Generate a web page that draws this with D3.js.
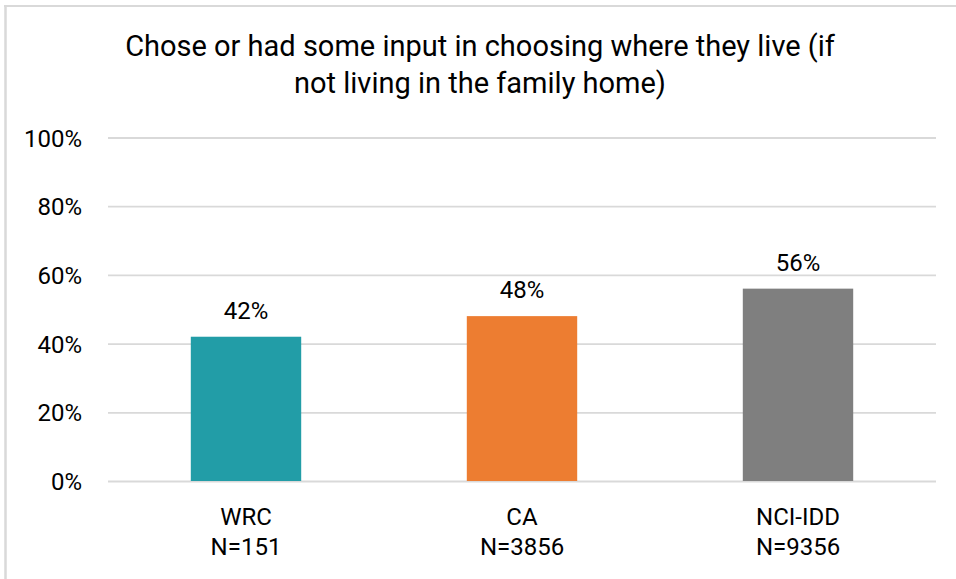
<!DOCTYPE html>
<html>
<head>
<meta charset="utf-8">
<script src="https://cdn.jsdelivr.net/npm/d3@7"></script>
<style>
  html, body { margin: 0; padding: 0; background: #fff; }
  svg { display: block; }
  text { font-family: Roboto, "Open Sans", sans-serif; fill: #000; }
</style>
</head>
<body>
<svg id="chart" width="956" height="579"></svg>
<script>
const titleLines = ["Chose or had some input in choosing where they live (if", "not living in the family home)"];
const categories = ["WRC", "CA", "NCI-IDD"];
const sampleSizes = ["N=151", "N=3856", "N=9356"];
const values = [0.42, 0.48, 0.56];
const colors = ["#229DA7", "#ED7D31", "#7F7F7F"];
const yTicks = [0, 0.2, 0.4, 0.6, 0.8, 1.0];

const svg = d3.select("#chart");
const W = 956, H = 579;
const margin = {left: 108, right: 20, top: 137.5, bottom: 98};

// chart border (top + left visible)
svg.append("line").attr("x1", 4).attr("x2", W).attr("y1", 6).attr("y2", 6)
  .attr("stroke", "#d9d9d9").attr("stroke-width", 2);
svg.append("line").attr("x1", 5.5).attr("x2", 5.5).attr("y1", 5).attr("y2", H)
  .attr("stroke", "#d9d9d9").attr("stroke-width", 2.5);

const x = d3.scaleBand().domain(categories)
  .range([margin.left, W - margin.right])
  .paddingInner(0.6).paddingOuter(0.3);
const y = d3.scaleLinear().domain([0, 1]).range([H - margin.bottom, margin.top]);

// title
const title = svg.append("text").attr("text-anchor", "middle").style("font-size", "29px");
titleLines.forEach((t, i) => {
  title.append("tspan").attr("x", 480).attr("y", 56 + i * 37).text(t);
});

// y axis with gridlines
const yAxis = d3.axisLeft(y).tickValues(yTicks).tickFormat(d3.format(".0%"))
  .tickSize(-(W - margin.left - margin.right)).tickPadding(26);
const gy = svg.append("g").attr("transform", `translate(${margin.left},0)`).call(yAxis);
gy.select(".domain").remove();
gy.selectAll(".tick line").attr("stroke", "#d9d9d9").attr("stroke-width", 1.8);
gy.selectAll(".tick text").style("font-size", "24px").style("font-family", "Roboto, sans-serif")
  .attr("fill", "#000").attr("dy", "0.36em");

// bars
svg.append("g").selectAll("rect").data(values).join("rect")
  .attr("x", (d, i) => x(categories[i]))
  .attr("width", x.bandwidth())
  .attr("y", d => y(d))
  .attr("height", d => y(0) - y(d))
  .attr("fill", (d, i) => colors[i]);

// value labels
svg.append("g").selectAll("text").data(values).join("text")
  .attr("x", (d, i) => x(categories[i]) + x.bandwidth() / 2)
  .attr("y", d => y(d) - 18)
  .attr("text-anchor", "middle")
  .style("font-size", "24px")
  .text(d => d3.format(".0%")(d));

// x axis category labels
const xl = svg.append("g").selectAll("text").data(categories).join("text")
  .attr("text-anchor", "middle")
  .style("font-size", "24px");
xl.append("tspan").attr("x", d => x(d) + x.bandwidth() / 2).attr("y", 525).text(d => d);
xl.append("tspan").attr("x", d => x(d) + x.bandwidth() / 2).attr("y", 555).text((d, i) => sampleSizes[i]);
</script>
</body>
</html>
